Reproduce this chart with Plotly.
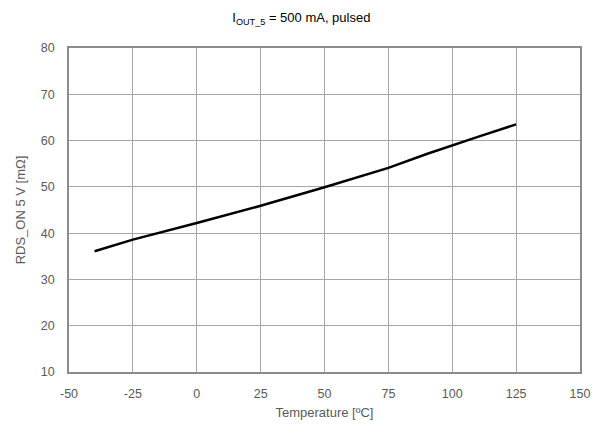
import plotly.graph_objects as go

temp_c = [-40, -25, 0, 25, 50, 75, 90, 100, 110, 125]
rds_on_mohm = [36.1, 38.6, 42.2, 45.9, 49.9, 54.1, 57.1, 59.0, 60.8, 63.5]
x_ticks = [-50, -25, 0, 25, 50, 75, 100, 125, 150]
y_ticks = [10, 20, 30, 40, 50, 60, 70, 80]

fig = go.Figure()
fig.add_trace(go.Scatter(x=temp_c, y=rds_on_mohm, mode="lines",
                         line=dict(color="black", width=2.5),
                         showlegend=False, hoverinfo="skip"))

fam = "Liberation Sans, Arial, sans-serif"
tickfont = dict(family=fam, size=12.5, color="#595959")
titlefont = dict(family=fam, size=13, color="#595959")
axis_common = dict(showline=True, linecolor="#8c8c8c", linewidth=1.5, mirror=True,
                   showgrid=True, gridcolor="#a6a6a6", gridwidth=1, zeroline=False,
                   ticks="", tickfont=tickfont, automargin=False)

fig.update_layout(
    width=598, height=424,
    margin=dict(l=69, r=18, t=48, b=52),
    paper_bgcolor="white", plot_bgcolor="white",
    title=dict(text="I<sub>OUT_5</sub> = 500 mA, pulsed", x=0.504, xanchor="center",
               y=0.97, yanchor="top",
               font=dict(family=fam, size=13, color="black")),
    xaxis=dict(range=[-50, 150], tickvals=x_ticks, ticktext=[str(v) for v in x_ticks],
               ticklabelstandoff=9,
               title=dict(text="Temperature [ºC]", font=titlefont, standoff=8), **axis_common),
    yaxis=dict(range=[10, 80], tickvals=y_ticks, ticktext=[str(v) for v in y_ticks],
               ticklabelstandoff=10,
               title=dict(text="RDS_ON 5 V [mΩ]", font=titlefont, standoff=12), **axis_common),
)

fig.write_html("out.html")
